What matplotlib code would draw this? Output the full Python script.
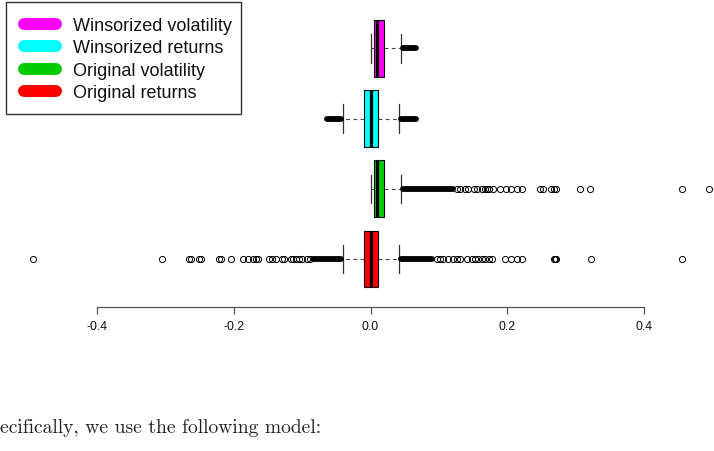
import matplotlib
matplotlib.use("Agg")
import matplotlib.pyplot as plt
from matplotlib.lines import Line2D
from matplotlib.patches import Rectangle

# ---------------- data ----------------
positions = [1, 2, 3, 4]
series_names = ["Original returns", "Original volatility",
                "Winsorized returns", "Winsorized volatility"]
series_colors = ["#FF0000", "#00CD00", "#00FFFF", "#FF00FF"]

q1 = [-0.0097, 0.0045, -0.0097, 0.0045]
medians = [0.0, 0.0094, 0.0, 0.0094]
q3 = [0.0104, 0.0200, 0.0104, 0.0200]
whisker_low = [-0.040, 0.0, -0.040, 0.0]
whisker_high = [0.0416, 0.045, 0.0416, 0.045]

outliers_orig_returns = [-0.4946, -0.306, -0.266, -0.263, -0.2516, -0.2486,
                         -0.222, -0.219, -0.2037, -0.1866, -0.179, -0.172,
                         -0.168, -0.165, -0.1485, -0.1436, -0.1377, -0.129,
                         -0.1265, -0.1166, -0.1133, -0.1094, -0.105, -0.101,
                         -0.0936, -0.0887,
                         0.097, 0.1015, 0.1066, 0.114, 0.121, 0.126, 0.131,
                         0.141, 0.148, 0.153, 0.158, 0.163, 0.168, 0.173,
                         0.178, 0.197, 0.205, 0.214, 0.222, 0.269, 0.2705,
                         0.271, 0.323, 0.456]
outliers_orig_vol = [0.126, 0.131, 0.138, 0.143, 0.151, 0.156, 0.163, 0.168,
                     0.170, 0.173, 0.180, 0.190, 0.198, 0.205, 0.214, 0.222,
                     0.248, 0.252, 0.2645, 0.268, 0.272, 0.307, 0.322, 0.456,
                     0.495]
outliers_wins_returns = []
outliers_wins_vol = []

# ranges where outliers are so dense they form a solid band
dense_orig_returns = [(-0.084, -0.043), (0.044, 0.090)]
dense_orig_vol = [(0.047, 0.121)]
dense_wins_returns = [(-0.064, -0.043), (0.044, 0.066)]
dense_wins_vol = [(0.047, 0.066)]

tick_values = [-0.4, -0.2, 0.0, 0.2, 0.4]
tick_labels = ["-0.4", "-0.2", "0.0", "0.2", "0.4"]

legend_labels = ["Winsorized volatility", "Winsorized returns",
                 "Original volatility", "Original returns"]
legend_colors = ["#FF00FF", "#00FFFF", "#00CD00", "#FF0000"]

caption = "ecifically, we use the following model:"

# ---------------- figure ----------------
W, H, DPI = 714, 452, 100
fig = plt.figure(figsize=(W / DPI, H / DPI), dpi=DPI)
fig.patch.set_facecolor("white")


def fx(px):
    return px / W


def fy(py):
    return 1 - py / H


ax = fig.add_axes([0, 0, 1, 1])
ax.set_facecolor("none")
ax.set_xlim(-370.5 / 683, (W - 370.5) / 683)
ax.set_ylim(-1.735, 4.704)

outliers = [outliers_orig_returns, outliers_orig_vol,
            outliers_wins_returns, outliers_wins_vol]
dense = [dense_orig_returns, dense_orig_vol,
         dense_wins_returns, dense_wins_vol]

stats = []
for i in range(4):
    stats.append(dict(med=medians[i], q1=q1[i], q3=q3[i],
                      whislo=whisker_low[i], whishi=whisker_high[i],
                      fliers=outliers[i], label=series_names[i]))

common = dict(positions=positions, widths=0.81, patch_artist=True,
              showfliers=True,
              boxprops=dict(edgecolor="black", linewidth=0.8),
              medianprops=dict(color="black", linewidth=2.3,
                               solid_capstyle="butt"),
              whiskerprops=dict(color="#444444", linewidth=0.8,
                                linestyle=(0, (3.5, 3))),
              capprops=dict(color="#333333", linewidth=0.9),
              flierprops=dict(marker="o", markerfacecolor="none",
                              markeredgecolor="black", markersize=4.4,
                              markeredgewidth=0.7, linestyle="none"),
              capwidths=0.405)
try:
    bp = ax.bxp(stats, orientation="horizontal", **common)
except TypeError:
    bp = ax.bxp(stats, vert=False, **common)

for patch, c in zip(bp["boxes"], series_colors):
    patch.set_facecolor(c)

for pos, bands in zip(positions, dense):
    for a, b in bands:
        ax.plot([a, b], [pos, pos], color="black", linewidth=4.2,
                solid_capstyle="round", zorder=3)

# x axis (R style: only bottom axis, spanning the tick range)
for s in ["left", "right", "top"]:
    ax.spines[s].set_visible(False)
axis_y = -1.735 + (H - 307.7) / 70.2
ax.spines["bottom"].set_position(("data", axis_y))
ax.spines["bottom"].set_bounds(tick_values[0], tick_values[-1])
ax.spines["bottom"].set_color("#555555")
ax.spines["bottom"].set_linewidth(0.9)
ax.set_xticks(tick_values)
ax.set_xticklabels(tick_labels, family="Liberation Sans", fontsize=8.9,
                   color="#111111")
ax.tick_params(axis="x", length=4.8, width=0.9, color="#555555", pad=5,
               direction="out")
ax.set_yticks([])

# ---------------- legend ----------------
fig.add_artist(Rectangle((fx(6), fy(115)), (241 - 6) / W, (115 - 2.7) / H,
                         transform=fig.transFigure, fill=False,
                         edgecolor="#333333", linewidth=1.0))
legend_ys = [25, 47, 70, 92]
texts = []
for lab, col, y in zip(legend_labels, legend_colors, legend_ys):
    fig.add_artist(Line2D([fx(24), fx(56)], [fy(y), fy(y)],
                          transform=fig.transFigure, color=col,
                          linewidth=8.6, solid_capstyle="round"))
    texts.append(fig.text(fx(72.7), fy(y + 5.8), lab,
                          family="Liberation Sans", fontsize=12.3,
                          va="baseline", ha="left", color="#111111"))

cap = fig.text(0, fy(433.5), caption, family="cmr10", fontsize=13,
               va="baseline", ha="left", color="#222222")

# fit text widths to the reference
fig.canvas.draw()
r = fig.canvas.get_renderer()
bw = texts[0].get_window_extent(r).width
scale = 159.0 / bw
for t in texts:
    t.set_fontsize(t.get_fontsize() * scale)
cw = cap.get_window_extent(r).width
cap.set_fontsize(cap.get_fontsize() * 323.0 / cw)

fig.savefig("out.png", dpi=DPI)
